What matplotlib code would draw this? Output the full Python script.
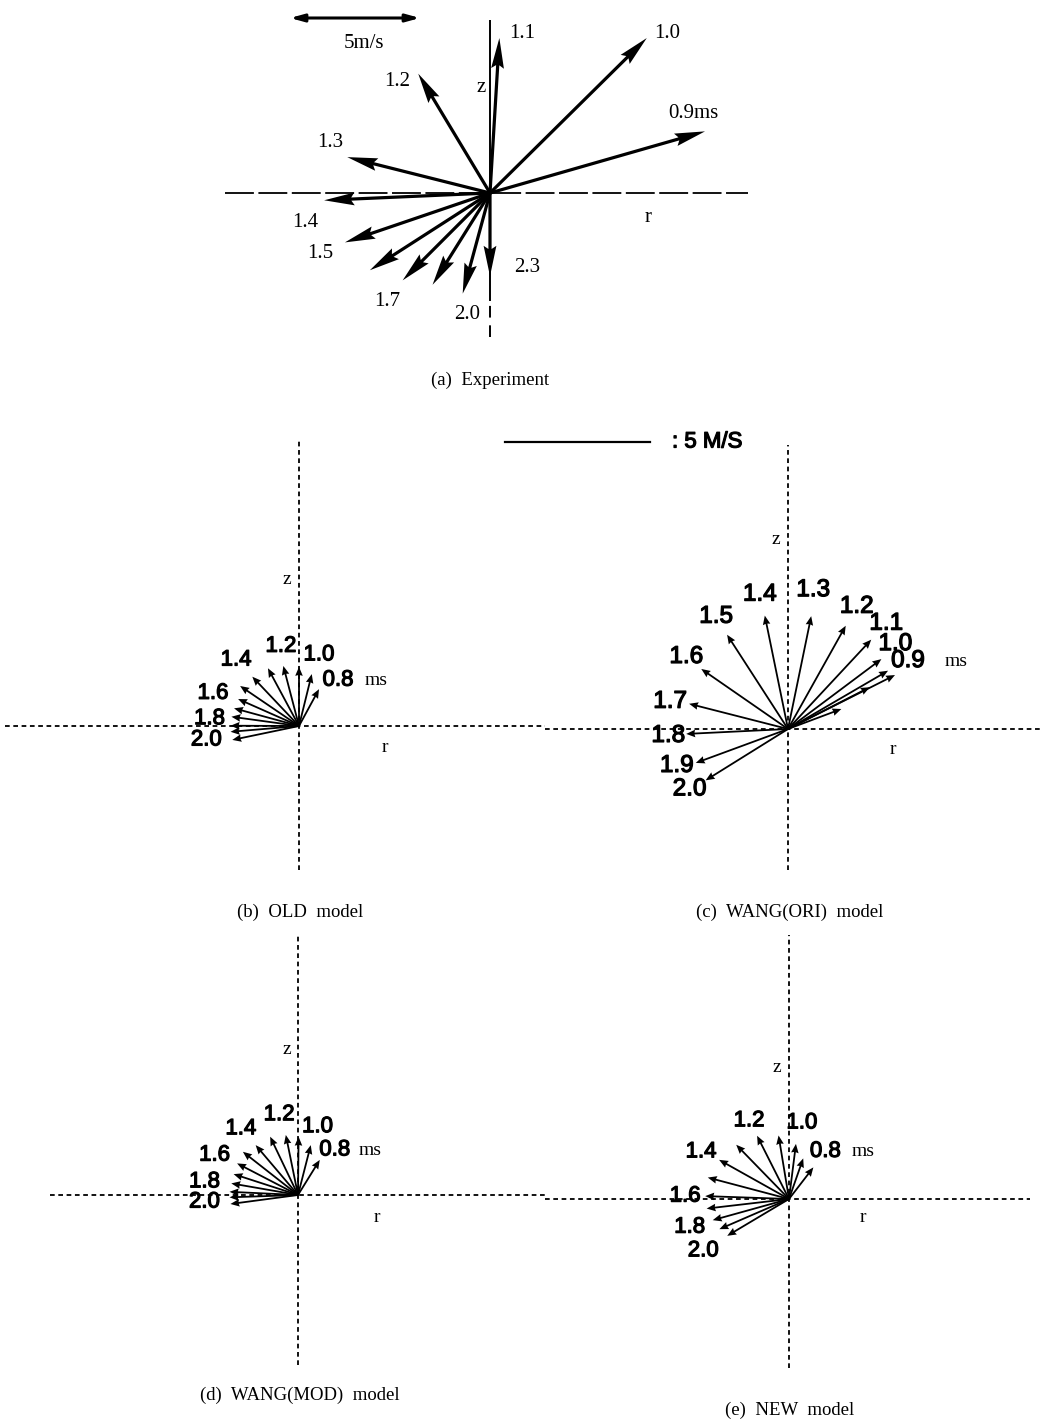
import matplotlib
matplotlib.use("Agg")
import matplotlib.pyplot as plt
import matplotlib.patheffects as pe
import numpy as np

W, H = 1055, 1424
SERIF = "Liberation Serif"
SANS = "Liberation Sans"

# ---------------- data (velocity vectors, m/s) ----------------
# (a) Experiment
times_a = [0.9, 1.0, 1.1, 1.2, 1.3, 1.4, 1.5, 1.6, 1.7, 1.8, 2.0, 2.3]
u_a = [8.27, 6.03, 0.36, -2.76, -5.49, -6.38, -5.58, -4.62, -3.36, -2.21, -1.05, 0.00]
w_a = [2.37, 5.96, 5.96, 4.59, 1.38, -0.28, -1.90, -2.97, -3.36, -3.53, -3.87, -3.20]
labels_a = ["0.9ms", "1.0", "1.1", "1.2", "1.3", "1.4", "1.5", "", "1.7", "", "2.0", "2.3"]

# (b) OLD model
times_b = [0.8, 0.9, 1.0, 1.1, 1.2, 1.3, 1.4, 1.5, 1.6, 1.7, 1.8, 1.9, 2.0]
u_b = [0.69, 0.44, 0.00, -0.54, -1.07, -1.61, -2.03, -2.10, -2.24, -2.33, -2.36, -2.36, -2.30]
w_b = [1.27, 1.79, 2.04, 2.07, 1.99, 1.70, 1.38, 0.93, 0.61, 0.32, 0.01, -0.20, -0.48]

# (c) WANG(ORI) model
times_c = [0.6, 0.7, 0.8, 0.9, 1.0, 1.1, 1.2, 1.3, 1.4, 1.5, 1.6, 1.7, 1.8, 1.9, 2.0]
u_c = [1.84, 2.82, 3.45, 3.69, 3.22, 2.87, 1.99, 0.80, -0.80, -2.10, -2.99, -3.41, -3.51, -3.18, -2.84]
w_c = [0.69, 1.44, 2.01, 1.86, 2.41, 3.08, 3.56, 3.89, 3.91, 3.25, 2.07, 0.87, -0.17, -1.17, -1.77]

# (d) WANG(MOD) model
times_d = [0.8, 0.9, 1.0, 1.1, 1.2, 1.3, 1.4, 1.5, 1.6, 1.7, 1.8, 1.9, 2.0]
u_d = [0.75, 0.44, 0.02, -0.42, -0.96, -1.46, -1.90, -2.10, -2.22, -2.30, -2.36, -2.36, -2.33]
w_d = [1.21, 1.72, 2.01, 2.07, 2.01, 1.72, 1.49, 1.09, 0.72, 0.40, 0.11, -0.08, -0.31]

# (e) NEW model
times_e = [0.8, 0.9, 1.0, 1.1, 1.2, 1.3, 1.4, 1.5, 1.6, 1.7, 1.8, 1.9, 2.0]
u_e = [0.84, 0.49, 0.24, -0.36, -1.10, -1.82, -2.41, -2.80, -2.89, -2.84, -2.63, -2.40, -2.13]
w_e = [1.09, 1.40, 1.90, 2.19, 2.18, 1.87, 1.35, 0.74, 0.10, -0.33, -0.73, -1.04, -1.27]

scale_ref = 5.0  # m/s reference bars

# ---------------- layout helpers ----------------
fig = plt.figure(figsize=(W / 100, H / 100), dpi=100)
fig.patch.set_facecolor("white")
BOLDISH = [pe.withStroke(linewidth=0.9, foreground="black")]


def make_axes(box, origin, ppm):
    l, t, r, b = box
    ox, oy = origin
    ax = fig.add_axes([l / W, 1 - b / H, (r - l) / W, (b - t) / H])
    ax.set_xlim((l - ox) / ppm, (r - ox) / ppm)
    ax.set_ylim((oy - b) / ppm, (oy - t) / ppm)
    ax.axis("off")
    return ax


def label_tips(ax, times, u, w, offsets, fs, family, ms_offset=None, ms_time=None):
    for t, x, y in zip(times, u, w):
        key = round(t, 1)
        if key in offsets:
            dx, dy = offsets[key]
            ax.annotate(f"{t:.1f}", xy=(x, y), xytext=(dx, dy), textcoords="offset pixels",
                        ha="center", va="center", fontsize=fs, family=family,
                        annotation_clip=False, path_effects=BOLDISH)
            if ms_time is not None and key == ms_time:
                ax.annotate("ms", xy=(x, y), xytext=ms_offset, textcoords="offset pixels",
                            ha="center", va="center", fontsize=14, family=SERIF,
                            annotation_clip=False)


# ---------------- (a) Experiment ----------------
ppm_a = 26.0
axa = make_axes((225, 20, 748, 337), (490, 193), ppm_a)
axa.plot([0, 0], [(193 - 300) / ppm_a, (193 - 20) / ppm_a], color="black", lw=1.4)
axa.plot([0, 0], [(193 - 337) / ppm_a, (193 - 300) / ppm_a], color="black", lw=1.4,
         linestyle=(0, (6, 4)))
axa.axhline(0, color="black", lw=1.3, linestyle=(0, (16, 2.5)))
axa.quiver(np.zeros(len(u_a)), np.zeros(len(u_a)), u_a, w_a, angles="xy", scale_units="xy",
           scale=1, units="dots", width=3.2, headwidth=4.0, headlength=9.5,
           headaxislength=8.5, color="black", zorder=3, clip_on=False)
offs_a = {0.9: (-12, 18), 1.0: (20, 5), 1.1: (23, 5), 1.2: (-21, -8), 1.3: (-17, 15),
          1.4: (-19, -22), 1.5: (-25, -11), 1.7: (-15, -21), 2.0: (4, -21), 2.3: (37, 9)}
for t, x, y, lab in zip(times_a, u_a, w_a, labels_a):
    key = round(t, 1)
    if lab and key in offs_a:
        axa.annotate(lab, xy=(x, y), xytext=offs_a[key], textcoords="offset pixels",
                     ha="center", va="center", fontsize=15, family=SERIF, annotation_clip=False)
axa.text((481 - 490) / ppm_a, (193 - 88) / ppm_a, "z", ha="center", va="center",
         fontsize=15, family=SERIF)
axa.text((648 - 490) / ppm_a, (193 - 217) / ppm_a, "r", ha="center", va="center",
         fontsize=15, family=SERIF)
x0 = (290 - 490) / ppm_a
ybar = (193 - 18) / ppm_a
axa.annotate("", xy=(x0 + scale_ref, ybar), xytext=(x0, ybar), annotation_clip=False,
             arrowprops=dict(arrowstyle="<|-|>,head_length=0.8,head_width=0.22",
                             color="black", lw=2.2, shrinkA=0, shrinkB=0))
axa.text(x0 + scale_ref / 2 + 0.35, (193 - 43) / ppm_a, "5m/s", ha="center", va="center",
         fontsize=15, family=SERIF)
fig.text(490 / W, 1 - 380 / H, "(a)  Experiment", ha="center", va="center",
         fontsize=13.5, family=SERIF)

# ---------------- (b)-(e) models ----------------
ppm = 29.0
QKW = dict(angles="xy", scale_units="xy", scale=1, units="dots", width=1.8,
           headwidth=4.2, headlength=5.0, headaxislength=4.6, color="black",
           zorder=3, clip_on=False)
DASH = dict(color="black", lw=1.3, linestyle=(0, (2.6, 2.0)), zorder=1)


def model_panel(box, origin, times, u, w, offsets, fs, ms_time, ms_off, zpos, rpos,
                caption, cappos):
    ax = make_axes(box, origin, ppm)
    ax.axhline(0, **DASH)
    ax.axvline(0, **DASH)
    ax.quiver(np.zeros(len(u)), np.zeros(len(u)), u, w, **QKW)
    label_tips(ax, times, u, w, offsets, fs, SANS, ms_offset=ms_off, ms_time=ms_time)
    ox, oy = origin
    ax.text((zpos[0] - ox) / ppm, (oy - zpos[1]) / ppm, "z", ha="center", va="center",
            fontsize=14, family=SERIF)
    ax.text((rpos[0] - ox) / ppm, (oy - rpos[1]) / ppm, "r", ha="center", va="center",
            fontsize=14, family=SERIF)
    fig.text(cappos[0] / W, 1 - cappos[1] / H, caption, ha="center", va="center",
             fontsize=13.5, family=SERIF)
    return ax


axb = model_panel((5, 440, 545, 870), (299, 726), times_b, u_b, w_b,
                  {0.8: (19, 9), 1.0: (20, 12), 1.2: (13, 22), 1.4: (-4, 26),
                   1.6: (-21, 15), 1.8: (-21, 7), 2.0: (-26, 0)},
                  16, 0.8, (57, 9), (287, 580), (385, 748), "(b)  OLD  model", (300, 912))

axc = model_panel((545, 445, 1040, 870), (788, 729), times_c, u_c, w_c,
                  {0.9: (13, 14), 1.0: (14, 15), 1.1: (15, 16), 1.2: (11, 19),
                   1.3: (2, 26), 1.4: (-5, 21), 1.5: (-11, 18), 1.6: (-15, 12),
                   1.7: (-19, 2), 1.8: (-18, -2), 1.9: (-19, -3), 2.0: (-16, -9)},
                  17.5, 0.9, (61, 14), (776, 540), (893, 750),
                  "(c)  WANG(ORI)  model", (790, 912))

axd = model_panel((50, 935, 545, 1365), (298, 1195), times_d, u_d, w_d,
                  {0.8: (15, 10), 1.0: (19, 10), 1.2: (9, 22), 1.4: (-2, 23),
                   1.6: (-19, 19), 1.8: (-25, 10), 2.0: (-26, 2)},
                  16, 0.8, (50, 9), (287, 1050), (377, 1217),
                  "(d)  WANG(MOD)  model", (300, 1395))

axe = model_panel((545, 935, 1030, 1368), (789, 1199), times_e, u_e, w_e,
                  {0.8: (12, 16), 1.0: (6, 21), 1.2: (-8, 15), 1.4: (-18, 8),
                   1.6: (-20, 0), 1.8: (-23, -7), 2.0: (-24, -15)},
                  16, 0.8, (50, 16), (777, 1068), (863, 1217),
                  "(e)  NEW  model", (790, 1410))

# reference bar for model panels
xs = (505 - 299) / ppm
ys = (726 - 442) / ppm
axb.plot([xs, xs + scale_ref], [ys, ys], color="black", lw=1.6, clip_on=False)
axb.text((672 - 299) / ppm, ys, ": 5 M/S", ha="left", va="center", fontsize=16,
         family=SANS, path_effects=BOLDISH)

fig.savefig("out.png", dpi=100, facecolor="white")
